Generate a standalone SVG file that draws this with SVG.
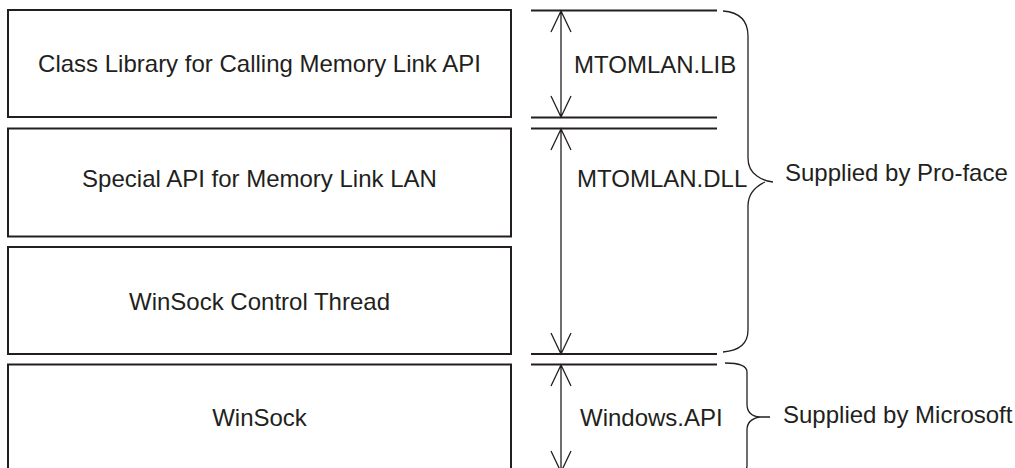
<svg xmlns="http://www.w3.org/2000/svg" width="1015" height="468" viewBox="0 0 1015 468">
<style>
.box{fill:#fff;stroke:#231f20;stroke-width:2}
.sep{stroke:#231f20;stroke-width:2;fill:none}
.thin{stroke:#231f20;stroke-width:1.3;fill:none}
text{font-family:"Liberation Sans",Arial,sans-serif;font-size:24px;fill:#231f20}
.c{text-anchor:middle}
</style>
<rect width="1015" height="468" fill="#fff"/>
<g id="node-classlib"><rect class="box" x="8" y="10" width="503" height="107"/><text class="c" x="259.5" y="72">Class Library for Calling Memory Link API</text></g>
<g id="node-specialapi"><rect class="box" x="8" y="128.5" width="503" height="108"/><text class="c" x="259.5" y="187">Special API for Memory Link LAN</text></g>
<g id="node-winsockthread"><rect class="box" x="8" y="247" width="503" height="107"/><text class="c" x="259.5" y="310">WinSock Control Thread</text></g>
<g id="node-winsock"><rect class="box" x="8" y="364.5" width="503" height="120"/><text class="c" x="259.5" y="426">WinSock</text></g>
<g id="connectors">
<path class="sep" d="M531 10.5H717M531 117.5H717M531 128.5H717M531 354H717M531 364.5H717"/>
<path class="thin" d="M561 11V117M551 32L561 11L571 32M551 96L561 117L571 96"/>
<path class="thin" d="M561 129V354M551 150L561 129L571 150M551 333L561 354L571 333"/>
<path class="thin" d="M561 365V472M551 386L561 365L571 386M551 451L561 472L571 451"/>
<path class="thin" d="M723 11Q748 13 748 36V158Q748 170 757 176Q764 181 773 182M765 182Q748 190 748 206V330Q748 350 723 352"/>
<path class="thin" d="M725 363Q747 363 747 372V404Q747 416 760 417H770M760 417Q747 419 747 430V466Q747 472 735 472"/>
</g>
<g id="labels">
<text x="574" y="73">MTOMLAN.LIB</text>
<text x="577" y="187">MTOMLAN.DLL</text>
<text x="580" y="426">Windows.API</text>
<text x="785" y="181">Supplied by Pro-face</text>
<text x="783" y="423">Supplied by Microsoft</text>
</g>
</svg>
